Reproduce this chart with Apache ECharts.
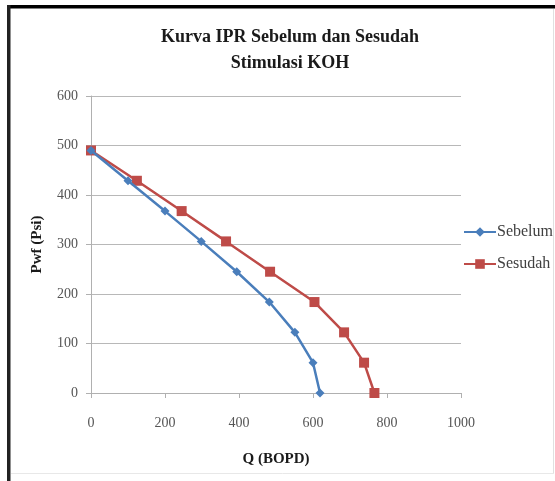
<!DOCTYPE html>
<html><head><meta charset="utf-8">
<script src="https://cdn.jsdelivr.net/npm/echarts@6/dist/echarts.min.js"></script>
<style>html,body{margin:0;padding:0;background:#fff}#c{width:555px;height:481px}</style>
</head><body><div id="c"></div>
<script>
const titleText = "Kurva IPR Sebelum dan Sesudah\nStimulasi KOH";
const xName = "Q (BOPD)";
const yName = "Pwf (Psi)";
const pwf = [490, 428.75, 367.5, 306.25, 245, 183.75, 122.5, 61.25, 0];
const qSebelum = [0, 100, 200, 298, 394, 482, 551, 600, 619];
const qSesudah = [0, 124, 245, 365, 484, 604, 684, 738, 766];
const seriesNames = ["Sebelum", "Sesudah"];

const font = "'Liberation Serif', 'Times New Roman', serif";
const chart = echarts.init(document.getElementById('c'), null, {renderer: 'canvas'});
chart.setOption({
  animation: false,
  backgroundColor: '#fff',
  title: {
    text: titleText, left: 285, top: 19, textAlign: 'center',
    textStyle: {fontFamily: font, fontWeight: 'bold', fontSize: 18, color: '#1a1a1a', lineHeight: 26}
  },
  legend: {
    orient: 'vertical', left: 458, top: 219, itemGap: 16, itemWidth: 32, itemHeight: 12,
    textStyle: {fontFamily: font, fontSize: 16, color: '#404040', padding: [0,0,0,-4]},
    data: seriesNames
  },
  grid: {left: 91, right: 94, top: 96, bottom: 88, containLabel: false},
  xAxis: {
    type: 'value', min: 0, max: 1000, interval: 200,
    name: xName, nameLocation: 'middle', nameGap: 59,
    nameTextStyle: {fontFamily: font, fontWeight: 'bold', fontSize: 15, color: '#1a1a1a'},
    axisLine: {show: true, lineStyle: {color: '#b0b0b0', width: 1}},
    axisTick: {show: true, length: 5, inside: false, lineStyle: {color: '#b0b0b0'}},
    axisLabel: {fontFamily: font, fontSize: 14, color: '#555', margin: 23, formatter: v => String(v)},
    splitLine: {show: false}
  },
  yAxis: {
    type: 'value', min: 0, max: 600, interval: 100,
    name: yName, nameLocation: 'middle', nameGap: 46, nameRotate: 90,
    nameTextStyle: {fontFamily: font, fontWeight: 'bold', fontSize: 15, color: '#1a1a1a'},
    axisLine: {show: true, lineStyle: {color: '#b0b0b0', width: 1}},
    axisTick: {show: true, length: 5, lineStyle: {color: '#b0b0b0'}},
    axisLabel: {fontFamily: font, fontSize: 14, color: '#555', margin: 13},
    splitLine: {show: true, lineStyle: {color: '#b8b8b8', width: 1}}
  },
  series: [
    {
      name: seriesNames[0], type: 'line', data: qSebelum.map((q, i) => [q, pwf[i]]),
      symbol: 'diamond', symbolSize: 9, z: 3,
      lineStyle: {color: '#4a7ebb', width: 2.5}, itemStyle: {color: '#4a7ebb'}
    },
    {
      name: seriesNames[1], type: 'line', data: qSesudah.map((q, i) => [q, pwf[i]]),
      symbol: 'rect', symbolSize: 10, z: 2,
      lineStyle: {color: '#be4b48', width: 2.5}, itemStyle: {color: '#be4b48'}
    }
  ],
  graphic: [
    {type: 'rect', shape: {x: 7, y: 5, width: 560, height: 3.5}, style: {fill: '#000'}},
    {type: 'rect', shape: {x: 7, y: 5, width: 3.5, height: 480}, style: {fill: '#222'}},
    {type: 'line', shape: {x1: 553.5, y1: 9, x2: 553.5, y2: 473}, style: {stroke: '#e0e0e0', lineWidth: 1}},
    {type: 'line', shape: {x1: 11, y1: 473.5, x2: 554, y2: 473.5}, style: {stroke: '#e8e8e8', lineWidth: 1}}
  ]
});
</script></body></html>
